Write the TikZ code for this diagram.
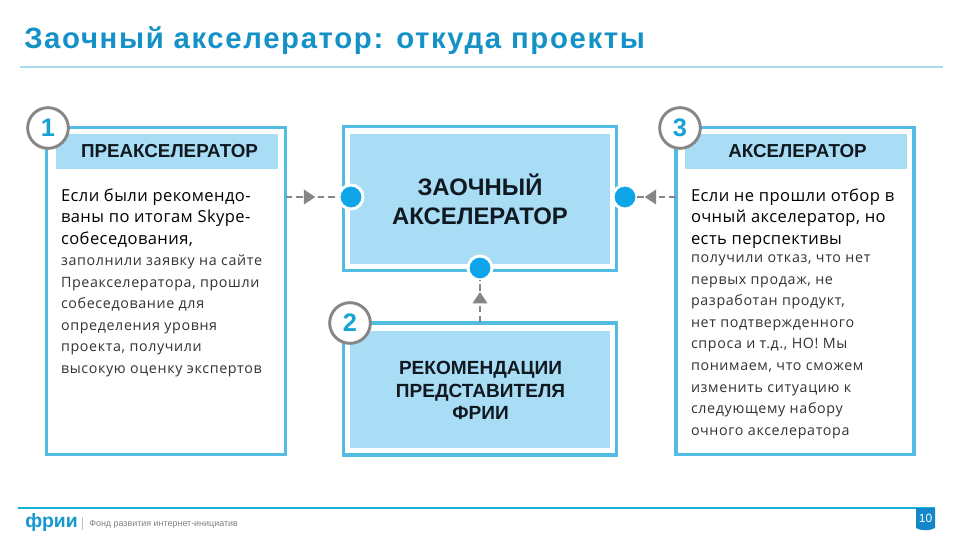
\documentclass[tikz,border=0pt]{standalone}
\usepackage{fontspec}
\setmainfont{Liberation Sans}
\newfontfamily\leadf[LetterSpace=2.6]{Open Sans}
\newfontfamily\restf[LetterSpace=4.5]{Open Sans}
\newfontfamily\titlef[LetterSpace=5.6]{Liberation Sans}
\usetikzlibrary{arrows.meta,decorations.markings}
\definecolor{edgeb}{HTML}{52BCE2}
\definecolor{fillb}{HTML}{A9DDF5}
\definecolor{dotb}{HTML}{0FA5E9}
\definecolor{grayc}{HTML}{868686}
\definecolor{numb}{HTML}{14A3D3}
\definecolor{inkc}{HTML}{101820}
\definecolor{titlec}{HTML}{1492C8}
\definecolor{linec}{HTML}{A8DCEC}
\definecolor{footc}{HTML}{14B4D8}
\definecolor{tabc}{HTML}{1387C9}
\newcommand{\px}[2]{\fontsize{#1}{#2}\selectfont}
\tikzset{
  x=0.75pt,y=-0.75pt,
  frame/.style={draw=edgeb,line width=2.6pt,fill=white,inner sep=0pt,outer sep=0pt},
  band/.style={fill=fillb,inner sep=0pt,outer sep=0pt,align=center,text=inkc,font=\bfseries\px{14.1pt}{17pt}},
  bigband/.style={band,font=\bfseries\px{17.9pt}{21.8pt}},
  midband/.style={band,font=\bfseries\px{14.3pt}{16.6pt}},
  lead/.style={inner sep=0pt,outer sep=0pt,anchor=north west,align=left,text=black,font=\leadf\px{12.4pt}{16.3pt}},
  rest/.style={inner sep=0pt,outer sep=0pt,anchor=north west,align=left,text=black!80,font=\restf\px{10.7pt}{16.2pt}},
  dotn/.style={circle,fill=dotb,draw=white,line width=2.2pt,minimum size=18pt,inner sep=0pt,outer sep=0pt},
  badge/.style={circle,fill=white,draw=grayc,line width=2.2pt,minimum size=30.5pt,inner sep=0pt,text=numb,font=\bfseries\px{19pt}{20pt}},
  flow/.style={draw=grayc,line width=1.1pt,dash pattern=on 5pt off 3pt,postaction={decorate},
    decoration={markings,mark=at position #1 with {\arrow[solid]{Triangle[length=8.5pt,width=11pt,fill=grayc]}}}},
}
\begin{document}
\begin{tikzpicture}
\useasboundingbox (0,0) rectangle (960,540);
\fill[white] (0,0) rectangle (960,540);
% title
\node[inner sep=0pt,anchor=base west,text=titlec,font=\titlef\bfseries\px{22pt}{24pt}] (title) at (24,48) {Заочный акселератор: откуда проекты};
\coordinate (ruleA) at (20,67); \coordinate (ruleB) at (943,67);
\draw[linec,line width=0.8pt] (ruleA) -- (ruleB);
% frames
\node[frame,minimum width=179.5pt,minimum height=245.5pt] (leftbox) at (166,291) {};
\node[frame,minimum width=205pt,minimum height=108pt] (midbox) at (480,198.5) {};
\node[frame,minimum width=205pt,minimum height=99pt] (lowbox) at (480,389) {};
\node[frame,minimum width=178.5pt,minimum height=245.5pt] (rightbox) at (795,291) {};
% bands
\node[fill=fillb,inner sep=0pt,minimum width=166.5pt,minimum height=26pt] (lefthead) at (167,151.5) {};
\node[band,inner sep=0pt] (lefttitle) at (169.5,151.5) {ПРЕАКСЕЛЕРАТОР};
\node[fill=fillb,inner sep=0pt,minimum width=166.5pt,minimum height=26pt] (righthead) at (796,151.5) {};
\node[band,inner sep=0pt] (righttitle) at (797.5,151.5) {АКСЕЛЕРАТОР};
\node[bigband,minimum width=195pt,minimum height=97.5pt] (midfill) at (480,199) {ЗАОЧНЫЙ\\АКСЕЛЕРАТОР};
\node[fill=fillb,inner sep=0pt,minimum width=195pt,minimum height=88pt] (lowfill) at (480,389.5) {};
\node[midband] (lowtitle) at (480.5,390.5) {РЕКОМЕНДАЦИИ\\ПРЕДСТАВИТЕЛЯ\\ФРИИ};
% text
\node[lead] (ltop) at (61,188.5) {Если были рекомендо-\\ваны по итогам Skype-\\собеседования,};
\node[rest] (lrest) at (61,254.8) {заполнили заявку на сайте\\Преакселератора, прошли\\собеседование для\\определения уровня\\проекта, получили\\высокую оценку экспертов};
\node[lead] (rtop) at (691,188.5) {Если не прошли отбор в\\очный акселератор, но\\есть перспективы};
\node[rest] (rrest) at (691,254.8) {получили отказ, что нет\\первых продаж, не\\разработан продукт,\\нет подтвержденного\\спроса и т.д., НО! Мы\\понимаем, что сможем\\изменить ситуацию к\\следующему набору\\очного акселератора};
% dots
\node[dotn] (dotL) at (351,197) {};
\node[dotn] (dotR) at (625,197) {};
\node[dotn] (dotD) at (480,268) {};
% connectors
\draw[flow=0.555] (leftbox.east |- dotL) -- (dotL);
\draw[flow=0.8] (rightbox.west |- dotR) -- (dotR);
\draw[flow=0.72] (lowbox.north) -- (dotD);
% badges
\node[badge] (b1) at (48,128) {1};
\node[badge] (b2) at (350,323) {2};
\node[badge] (b3) at (680,128) {3};
% footer
\coordinate (footA) at (18,508); \coordinate (footB) at (935,508);
\draw[footc,line width=1.2pt] (footA) -- (footB);
\node[inner sep=0pt,anchor=base west,text=tabc!60!footc,font=\bfseries\px{14.5pt}{16pt}] (logo) at (25,527) {фрии};
\coordinate (sepA) at (82,517); \coordinate (sepB) at (82,530);
\draw[black!25,line width=0.5pt] (sepA) -- (sepB);
\node[inner sep=0pt,anchor=base west,text=black!50,font=\px{6.7pt}{8pt}] (foottext) at (89,526) {Фонд развития интернет-инициатив};
\fill[tabc] (916,508) -- (935,508) -- (935,528) .. controls (930,531) and (921,531) .. (916,528) -- cycle;
\node[inner sep=0pt,text=white,font=\px{9pt}{10pt}] (pagen) at (925.5,518) {10};
\end{tikzpicture}
\end{document}
